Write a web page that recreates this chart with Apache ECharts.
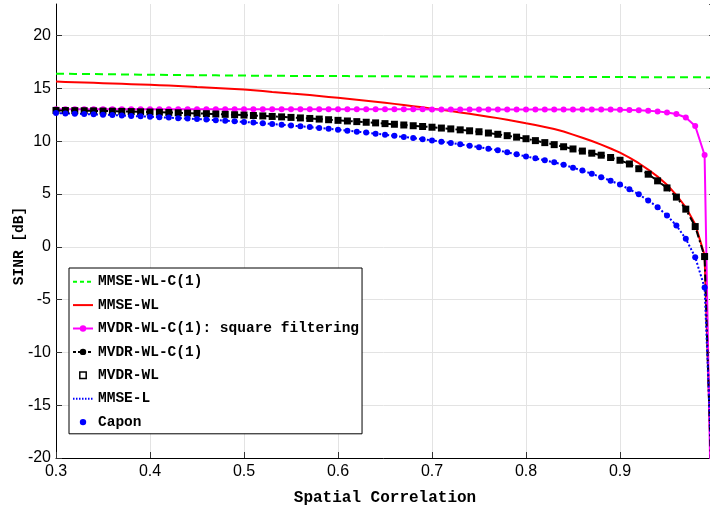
<!DOCTYPE html>
<html>
<head>
<meta charset="utf-8">
<script src="https://cdn.jsdelivr.net/npm/echarts@6/dist/echarts.min.js"></script>
<style>
html,body{margin:0;padding:0;background:#fff;}
#chart{width:710px;height:513px;}
</style>
</head>
<body>
<div id="chart"></div>
<script>
// x values (spatial correlation)
var xs = [0.30,0.31,0.32,0.33,0.34,0.35,0.36,0.37,0.38,0.39,
          0.40,0.41,0.42,0.43,0.44,0.45,0.46,0.47,0.48,0.49,
          0.50,0.51,0.52,0.53,0.54,0.55,0.56,0.57,0.58,0.59,
          0.60,0.61,0.62,0.63,0.64,0.65,0.66,0.67,0.68,0.69,
          0.70,0.71,0.72,0.73,0.74,0.75,0.76,0.77,0.78,0.79,
          0.80,0.81,0.82,0.83,0.84,0.85,0.86,0.87,0.88,0.89,
          0.90,0.91,0.92,0.93,0.94,0.95,0.96,0.97,0.98,0.99,
          0.999];

var mmseWLC1 = [16.40,16.39,16.38,16.37,16.36,16.35,16.34,16.33,16.32,16.31,
                16.30,16.29,16.28,16.27,16.26,16.26,16.25,16.24,16.23,16.23,
                16.22,16.21,16.21,16.20,16.20,16.19,16.19,16.18,16.18,16.17,
                16.17,16.17,16.16,16.16,16.16,16.15,16.15,16.15,16.14,16.14,
                16.14,16.13,16.13,16.13,16.12,16.12,16.12,16.11,16.11,16.11,
                16.10,16.10,16.10,16.10,16.09,16.09,16.09,16.09,16.08,16.08,
                16.08,16.08,16.07,16.07,16.07,16.07,16.06,16.06,16.06,16.05,
                16.05];

var mmseWL = [15.65,15.62,15.59,15.56,15.53,15.50,15.47,15.44,15.41,15.38,
              15.35,15.31,15.27,15.23,15.19,15.14,15.10,15.05,15.00,14.95,
              14.90,14.83,14.75,14.67,14.60,14.52,14.45,14.37,14.29,14.20,
              14.11,14.02,13.93,13.84,13.74,13.64,13.54,13.43,13.32,13.21,
              13.09,12.98,12.86,12.73,12.60,12.47,12.33,12.19,12.04,11.88,
              11.70,11.53,11.35,11.16,10.92,10.63,10.33,10.02,9.68,9.31,
              8.92,8.45,7.92,7.32,6.65,5.88,4.90,3.75,2.15,-0.80,
              -27];

var mvdrSquare = [13.04,13.04,13.04,13.04,13.03,13.03,13.03,13.03,13.03,13.03,
                  13.02,13.02,13.02,13.02,13.02,13.02,13.02,13.02,13.02,13.02,
                  13.02,13.02,13.02,13.02,13.02,13.02,13.02,13.02,13.02,13.02,
                  13.02,13.02,13.02,13.02,13.02,13.02,13.02,13.02,13.02,13.02,
                  13.01,13.01,13.01,13.01,13.01,13.01,13.01,13.01,13.01,13.01,
                  13.01,13.01,13.01,13.01,13.01,13.00,13.00,13.00,13.00,13.00,
                  12.99,12.97,12.94,12.90,12.83,12.73,12.58,12.25,11.45,8.70,
                  -36];

var mvdrWLC1 = [12.92,12.91,12.90,12.89,12.88,12.86,12.85,12.83,12.81,12.79,
                12.77,12.75,12.73,12.70,12.67,12.64,12.61,12.58,12.55,12.51,
                12.48,12.44,12.40,12.35,12.31,12.26,12.21,12.16,12.10,12.04,
                11.98,11.92,11.86,11.80,11.74,11.67,11.61,11.54,11.47,11.40,
                11.33,11.25,11.17,11.08,10.99,10.90,10.78,10.66,10.53,10.39,
                10.24,10.06,9.87,9.68,9.48,9.27,9.07,8.87,8.68,8.46,
                8.20,7.85,7.40,6.88,6.25,5.58,4.71,3.57,1.92,-0.92,
                -27];

var mvdrWL = mvdrWLC1.slice();

var mmseL = [12.67,12.64,12.61,12.58,12.55,12.52,12.48,12.44,12.40,12.36,
             12.32,12.28,12.24,12.19,12.15,12.10,12.05,12.00,11.95,11.89,
             11.83,11.77,11.70,11.63,11.56,11.49,11.42,11.34,11.26,11.18,
             11.09,11.00,10.91,10.82,10.72,10.62,10.51,10.41,10.30,10.19,
             10.08,9.96,9.84,9.71,9.58,9.44,9.30,9.15,8.95,8.76,
             8.56,8.38,8.19,8.00,7.78,7.50,7.22,6.92,6.60,6.26,
             5.90,5.45,4.97,4.40,3.76,2.97,2.02,0.76,-0.98,-3.86,
             -24];

var capon = mmseL.slice();

var seriesNames = ['MMSE-WL-C(1)','MMSE-WL','MVDR-WL-C(1): square filtering','MVDR-WL-C(1)','MVDR-WL','MMSE-L','Capon'];

function pairs(ys){ return xs.map(function(x,i){ return [x, ys[i]]; }); }

var tickFont = "'Liberation Sans',Arial,sans-serif";
var monoFont = "'Liberation Mono','Courier New',monospace";

var chart = echarts.init(document.getElementById('chart'), null, {renderer:'canvas'});
chart.setOption({
  animation: false,
  backgroundColor: '#fff',
  grid: {left:56, right:-4, top:4, bottom:55, containLabel:false, outerBoundsMode:'none'},
  legend: {
    orient:'vertical', left:69, top:268,
    padding:[5.7,3,3.7,3],
    itemWidth:20, itemHeight:8, itemGap:7.4,
    backgroundColor:'#fff', borderColor:'#000', borderWidth:1, borderRadius:0,
    textStyle:{fontFamily:monoFont, fontWeight:'bold', fontSize:14.5, color:'#000', lineHeight:16},
    data: [
      {name:seriesNames[0], itemStyle:{opacity:0}, lineStyle:{type:[4,3], width:2}},
      {name:seriesNames[1], itemStyle:{opacity:0}},
      {name:seriesNames[2]},
      {name:seriesNames[3], lineStyle:{type:[3,2], width:2}},
      {name:seriesNames[4], itemStyle:{color:'#fff', borderColor:'#000', borderWidth:1.5}},
      {name:seriesNames[5], itemStyle:{opacity:0}, lineStyle:{type:[1.5,1.5], width:2}},
      {name:seriesNames[6]}
    ]
  },
  xAxis: {
    type:'value', min:0.3, max:1.0, interval:0.1,
    name:'Spatial Correlation', nameLocation:'middle', nameGap:32, nameMoveOverlap:false,
    nameTextStyle:{fontFamily:monoFont, fontWeight:'bold', fontSize:16, color:'#000'},
    axisLine:{show:true, onZero:false, lineStyle:{color:'#000', width:1}},
    axisTick:{show:true, inside:true, length:6, lineStyle:{color:'#333'}},
    axisLabel:{showMaxLabel:false, margin:6, fontFamily:tickFont, fontSize:16, color:'#000',
      formatter:function(v){ return v.toFixed(1); }},
    splitLine:{show:true, showMaxLine:false, lineStyle:{color:'#e3e3e3', width:1}}
  },
  yAxis: [{
    type:'value', min:-20, max:23, interval:5,
    name:'SINR [dB]', nameLocation:'middle', nameGap:29, nameRotate:90, nameMoveOverlap:false,
    nameTextStyle:{fontFamily:monoFont, fontWeight:'bold', fontSize:14.5, color:'#000', padding:[0,30,0,0]},
    axisLine:{show:true, onZero:false, lineStyle:{color:'#000', width:1}},
    axisTick:{show:true, inside:true, length:6, lineStyle:{color:'#333'}},
    axisLabel:{showMaxLabel:false, margin:5, fontFamily:tickFont, fontSize:16, color:'#000'},
    splitLine:{show:true, showMaxLine:false, lineStyle:{color:'#e3e3e3', width:1}}
  },{
    type:'value', min:-20, max:23, interval:5, position:'right',
    axisLine:{show:true, onZero:false, lineStyle:{color:'#000', width:1}},
    axisTick:{show:true, inside:true, length:5, lineStyle:{color:'#555'}},
    axisLabel:{show:false}, splitLine:{show:false}
  }],
  series: [
    {name:seriesNames[0], type:'line', data:pairs(mmseWLC1), symbol:'none',
     lineStyle:{color:'#00ff00', width:2, type:[8,5]}, itemStyle:{color:'#00ff00'}},
    {name:seriesNames[1], type:'line', data:pairs(mmseWL), symbol:'none',
     lineStyle:{color:'#ff0000', width:2}, itemStyle:{color:'#ff0000'}},
    {name:seriesNames[2], type:'line', data:pairs(mvdrSquare), symbol:'circle', symbolSize:6,
     lineStyle:{color:'#ff00ff', width:2}, itemStyle:{color:'#ff00ff'}},
    {name:seriesNames[3], type:'line', data:pairs(mvdrWLC1), symbol:'circle', symbolSize:4,
     lineStyle:{color:'#000', width:2, type:[7,3,2,3]}, itemStyle:{color:'#000'}},
    {name:seriesNames[4], type:'line', data:pairs(mvdrWL), symbol:'rect', symbolSize:7,
     lineStyle:{width:0, opacity:0}, itemStyle:{color:'#000'}},
    {name:seriesNames[5], type:'line', data:pairs(mmseL), symbol:'none',
     lineStyle:{color:'#0000ff', width:2, type:[2,2]}, itemStyle:{color:'#0000ff'}},
    {name:seriesNames[6], type:'line', data:pairs(capon), symbol:'circle', symbolSize:6,
     lineStyle:{width:0, opacity:0}, itemStyle:{color:'#0000ff'}}
  ]
});
</script>
</body>
</html>
